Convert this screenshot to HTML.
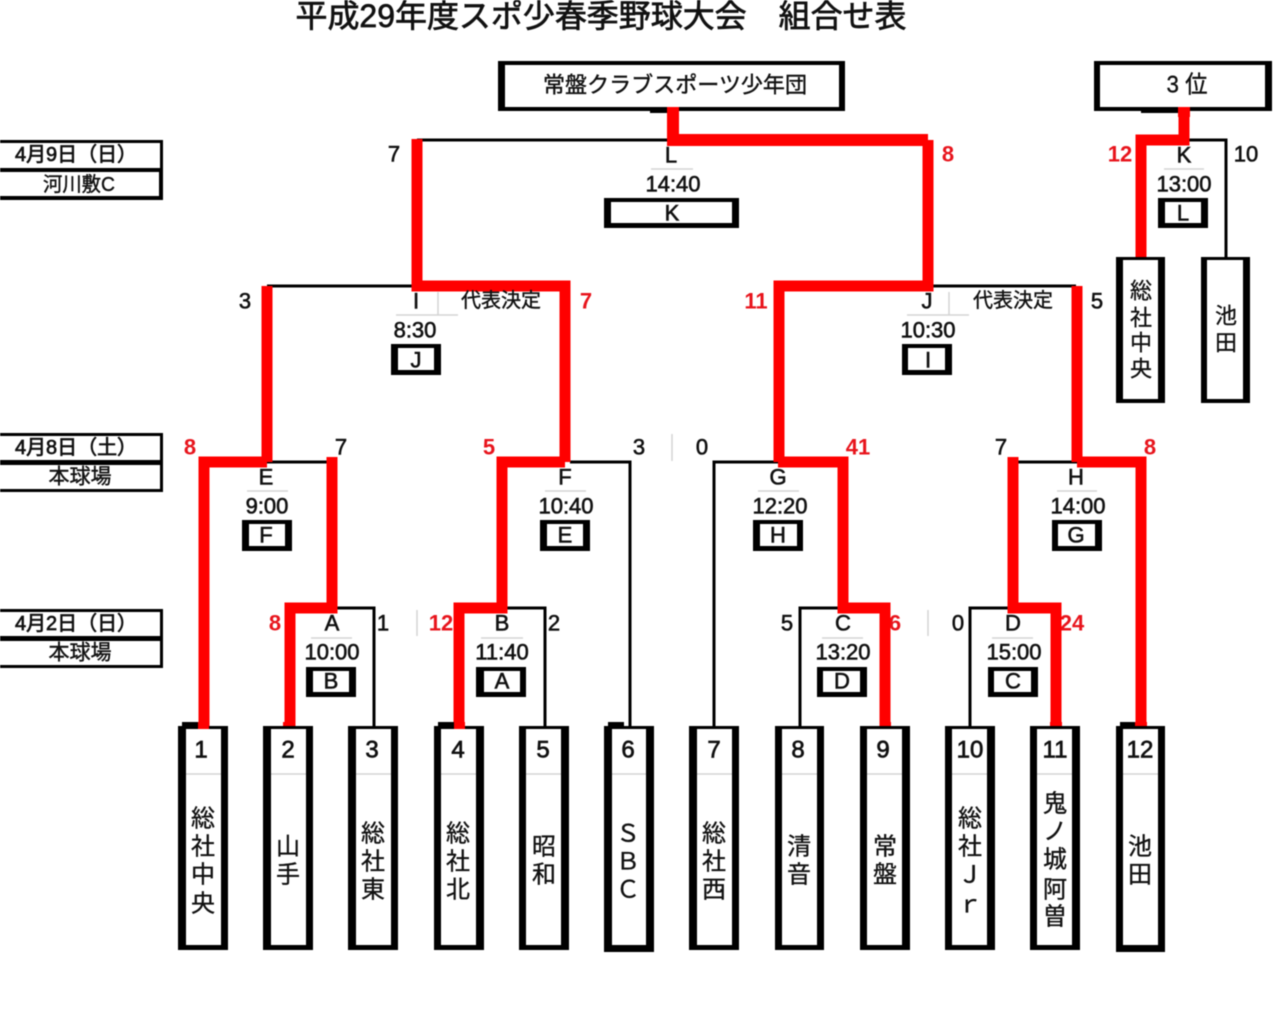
<!DOCTYPE html>
<html lang="ja"><head><meta charset="utf-8"><title>組合せ表</title>
<style>
html,body{margin:0;padding:0;background:#fff}
svg{display:block;filter:blur(.4px)}
text{font-family:"Liberation Sans","Noto Sans CJK JP",sans-serif;fill:#111;text-anchor:middle;dominant-baseline:central}
.s{font-size:22px;stroke:#111;stroke-width:.6px}
.r{font-size:22px;fill:#e8141c;font-weight:bold}
.t{font-size:22px;stroke:#111;stroke-width:.6px}
.k{font-size:24px;stroke:#111;stroke-width:.35px}
.n{font-size:24px;stroke:#111;stroke-width:.7px}
.d{font-size:20px;stroke:#111;stroke-width:.7px}
.m{font-size:20px;stroke:#111;stroke-width:.4px}
.g{stroke:#d4d4d4;stroke-width:1.5;fill:none}
.b{stroke:#000;stroke-width:3;fill:none}
.R{stroke:#f00;stroke-width:11;fill:none;stroke-linejoin:miter}
</style></head><body>
<svg width="1280" height="1019" viewBox="0 0 1280 1019" xmlns="http://www.w3.org/2000/svg">
<rect width="1280" height="1019" fill="#fff"/>
<text x="601" y="16" style="font-size:32px;stroke:#111;stroke-width:.7px" textLength="611" lengthAdjust="spacingAndGlyphs">平成29年度スポ少春季野球大会　組合せ表</text>

<!-- date tables -->
<g fill="#000">
<rect x="-2" y="140" width="165" height="60"/><rect x="-2" y="433" width="165" height="59"/><rect x="-2" y="609" width="165" height="59"/>
</g>
<g fill="#fff">
<rect x="0" y="143" width="160" height="25"/><rect x="0" y="172" width="159" height="24"/>
<rect x="0" y="436" width="160" height="24"/><rect x="0" y="465" width="160" height="24"/>
<rect x="0" y="612" width="160" height="24"/><rect x="0" y="641" width="160" height="24"/>
</g>
<text class="d" x="76" y="155" textLength="122" lengthAdjust="spacingAndGlyphs">4月9日（日）</text>
<text class="m" x="79" y="185" textLength="72" lengthAdjust="spacingAndGlyphs">河川敷C</text>
<text class="d" x="76" y="448" textLength="122" lengthAdjust="spacingAndGlyphs">4月8日（土）</text>
<text class="m" x="80" y="477" style="font-size:21px">本球場</text>
<text class="d" x="76" y="624" textLength="122" lengthAdjust="spacingAndGlyphs">4月2日（日）</text>
<text class="m" x="80" y="653" style="font-size:21px">本球場</text>

<!-- grey ticks -->
<path class="g" d="M438 292V315M396 315H458M949 292V315M907 315H969M672 434V461M928 610V636M417 610V636M651 169H693M1164 169H1204M247 491H288M545 491H586M758 491H799M1057 491H1097M311 638H352M481 638H523M822 638H863M992 638H1033"/>

<!-- scores -->
<g class="s">
<text x="394" y="154">7</text><text x="1246" y="154">10</text><text x="245" y="301">3</text><text x="1097" y="301">5</text>
<text x="341" y="447">7</text><text x="639" y="447">3</text><text x="702" y="447">0</text><text x="1001" y="447">7</text>
<text x="383" y="623">1</text><text x="554" y="623">2</text><text x="787" y="623">5</text><text x="958" y="623">0</text>
</g>
<g>
<text class="r" x="948" y="154">8</text><text class="r" x="1120" y="154">12</text><text class="r" x="586" y="301">7</text><text class="r" x="756" y="301">11</text>
<text class="r" x="190" y="447">8</text><text class="r" x="489" y="447">5</text><text class="r" x="858" y="447">41</text><text class="r" x="1150" y="447">8</text>
<text class="r" x="275" y="623">8</text><text class="r" x="441" y="623">12</text><text class="r" x="895" y="623">6</text><text class="r" x="1072" y="623">24</text>
</g>

<!-- black lines -->
<path class="b" d="M417 140H672M267 286H417M928 286H1076M1185 140H1226V258M267 462H332M570 462H630V726M335 608H374V726M503 608H545V726M778 462H714V726M843 608H800V726M1077 462H1013M1013 608H970V726"/>

<!-- red lines -->
<path class="R" style="stroke-width:12" d="M673 108V140H928"/>
<path class="R" d="M417 139V286H565V462M928 140V286H779V462M267 286V462M1077 286V462"/>
<path class="R" d="M267 462H204V726"/>
<path class="R" d="M332 457V608H290V726"/>
<path class="R" d="M565 462H502V608H459V726"/>
<path class="R" d="M778 462H843V608H885V726"/>
<path class="R" d="M1077 462H1141V726"/>
<path class="R" d="M1013 457V608H1056V726"/>
<path class="R" d="M1184 108V140H1141V258"/>

<!-- top boxes -->
<rect x="498" y="61" width="347" height="50" fill="#000"/><rect x="505" y="65" width="334" height="42" fill="#fff"/>
<rect x="650" y="110" width="18" height="3" fill="#000"/>
<rect x="667" y="107" width="12" height="10" fill="#f00"/>
<rect x="1094" y="61" width="178" height="50" fill="#000"/><rect x="1100" y="65" width="165" height="42" fill="#fff"/>
<rect x="1141" y="110" width="38" height="3" fill="#000"/>
<rect x="1178" y="107" width="12" height="10" fill="#f00"/>
<text x="675" y="85" style="font-size:22px;stroke:#111;stroke-width:.4px" textLength="264" lengthAdjust="spacingAndGlyphs">常盤クラブスポーツ少年団</text>
<text x="1187" y="85" style="font-size:24px;stroke:#111;stroke-width:.4px" textLength="41" lengthAdjust="spacingAndGlyphs">3 位</text>

<!-- match info -->
<g class="t">
<text x="671" y="155">L</text><text x="673" y="184">14:40</text>
<text x="1184" y="155">K</text><text x="1184" y="184">13:00</text>
<text x="416" y="301">I</text><text x="415" y="330">8:30</text>
<text x="927" y="301">J</text><text x="928" y="330">10:30</text>
<text x="266" y="477">E</text><text x="267" y="506">9:00</text>
<text x="565" y="477">F</text><text x="566" y="506">10:40</text>
<text x="778" y="477">G</text><text x="780" y="506">12:20</text>
<text x="1076" y="477">H</text><text x="1078" y="506">14:00</text>
<text x="332" y="623">A</text><text x="332" y="652">10:00</text>
<text x="502" y="623">B</text><text x="502" y="652">11:40</text>
<text x="843" y="623">C</text><text x="843" y="652">13:20</text>
<text x="1013" y="623">D</text><text x="1014" y="652">15:00</text>
</g>
<text class="m" x="501" y="301">代表決定</text>
<text class="m" x="1013" y="301">代表決定</text>

<!-- small boxes -->
<g fill="#000">
<rect x="604" y="198" width="135" height="30"/><rect x="1158" y="198" width="50" height="30"/>
<rect x="391" y="344" width="50" height="31"/><rect x="902" y="344" width="50" height="31"/>
<rect x="242" y="520" width="50" height="31"/><rect x="540" y="520" width="50" height="31"/>
<rect x="753" y="520" width="50" height="31"/><rect x="1052" y="520" width="50" height="31"/>
<rect x="306" y="667" width="50" height="30"/><rect x="476" y="667" width="50" height="30"/>
<rect x="817" y="667" width="50" height="30"/><rect x="988" y="667" width="50" height="30"/>
</g>
<g fill="#fff">
<rect x="611" y="202" width="121" height="21"/><rect x="1165" y="202" width="36" height="21"/>
<rect x="398" y="348" width="36" height="22"/><rect x="908" y="348" width="37" height="22"/>
<rect x="249" y="524" width="36" height="22"/><rect x="547" y="524" width="36" height="22"/>
<rect x="760" y="524" width="37" height="22"/><rect x="1058" y="524" width="37" height="22"/>
<rect x="313" y="671" width="36" height="21"/><rect x="484" y="671" width="36" height="21"/>
<rect x="823" y="671" width="37" height="21"/><rect x="994" y="671" width="37" height="21"/>
</g>
<g class="t">
<text x="672" y="213">K</text><text x="1183" y="213">L</text><text x="416" y="360">J</text><text x="928" y="360">I</text>
<text x="266" y="535">F</text><text x="565" y="535">E</text><text x="778" y="535">H</text><text x="1076" y="535">G</text>
<text x="331" y="681">B</text><text x="502" y="681">A</text><text x="842" y="681">D</text><text x="1013" y="681">C</text>
</g>

<!-- team boxes -->
<g fill="#000">
<rect x="178" y="726" width="50" height="224"/><rect x="263" y="726" width="50" height="224"/><rect x="348" y="726" width="50" height="224"/>
<rect x="434" y="726" width="50" height="224"/><rect x="519" y="726" width="50" height="224"/><rect x="604" y="726" width="50" height="226"/>
<rect x="689" y="726" width="50" height="224"/><rect x="775" y="726" width="49" height="224"/><rect x="860" y="726" width="50" height="224"/>
<rect x="945" y="726" width="50" height="224"/><rect x="1030" y="726" width="50" height="224"/><rect x="1116" y="726" width="49" height="226"/>
<rect x="182" y="722" width="16" height="5"/><rect x="438" y="722" width="16" height="5"/><rect x="608" y="722" width="16" height="5"/><rect x="1120" y="722" width="16" height="5"/>
<rect x="1116" y="257" width="49" height="146"/><rect x="1201" y="257" width="49" height="146"/>
</g>
<g fill="#f00">
<rect x="198" y="722" width="11" height="7"/><rect x="283" y="722" width="11" height="4"/><rect x="454" y="722" width="11" height="7"/><rect x="880" y="722" width="11" height="4"/><rect x="1050" y="722" width="12" height="4"/><rect x="1135" y="722" width="12" height="4"/>
</g>
<g fill="#fff">
<rect x="186" y="729" width="35" height="216"/><rect x="271" y="729" width="35" height="216"/><rect x="356" y="729" width="35" height="216"/>
<rect x="441" y="729" width="35" height="216"/><rect x="526" y="729" width="35" height="216"/><rect x="612" y="729" width="34" height="216"/>
<rect x="697" y="729" width="35" height="216"/><rect x="782" y="729" width="35" height="216"/><rect x="867" y="729" width="35" height="216"/>
<rect x="952" y="729" width="35" height="216"/><rect x="1037" y="729" width="35" height="216"/><rect x="1123" y="729" width="35" height="216"/>
<rect x="1123" y="260" width="35" height="139"/><rect x="1207" y="260" width="36" height="139"/>
</g>
<path class="g" d="M186 774H221M271 774H306M356 774H391M441 774H476M526 774H561M612 774H646M697 774H732M782 774H817M867 774H902M952 774H987M1037 774H1072M1123 774H1158"/>
<g class="n">
<text x="201" y="750">1</text><text x="288" y="750">2</text><text x="372" y="750">3</text><text x="458" y="750">4</text><text x="543" y="750">5</text><text x="628" y="750">6</text>
<text x="714" y="750">7</text><text x="798" y="750">8</text><text x="883" y="750">9</text><text x="970" y="750">10</text><text x="1055" y="750">11</text><text x="1140" y="750">12</text>
</g>
<g class="k">
<text x="203" y="819">総</text><text x="203" y="847">社</text><text x="203" y="875">中</text><text x="203" y="904">央</text>
<text x="288" y="847">山</text><text x="288" y="875">手</text>
<text x="373" y="834">総</text><text x="373" y="862">社</text><text x="373" y="890">東</text>
<text x="458" y="834">総</text><text x="458" y="862">社</text><text x="458" y="890">北</text>
<text x="544" y="847">昭</text><text x="544" y="875">和</text>
<text x="628" y="834">Ｓ</text><text x="628" y="862">Ｂ</text><text x="628" y="890">Ｃ</text>
<text x="714" y="834">総</text><text x="714" y="862">社</text><text x="714" y="890">西</text>
<text x="799" y="847">清</text><text x="799" y="875">音</text>
<text x="885" y="847">常</text><text x="885" y="875">盤</text>
<text x="970" y="819">総</text><text x="970" y="847">社</text><text x="970" y="875">Ｊ</text><text x="970" y="905">ｒ</text>
<text x="1055" y="804">鬼</text><text x="1055" y="832">ノ</text><text x="1055" y="860">城</text><text x="1055" y="890">阿</text><text x="1055" y="917">曽</text>
<text x="1140" y="847">池</text><text x="1140" y="875">田</text>
</g>
<g class="k">
<text x="1141" y="291" style="font-size:22px">総</text><text x="1141" y="318" style="font-size:22px">社</text><text x="1141" y="343" style="font-size:22px">中</text><text x="1141" y="369" style="font-size:22px">央</text>
<text x="1226" y="316" style="font-size:22px">池</text><text x="1226" y="343" style="font-size:22px">田</text>
</g>
</svg>
</body></html>
